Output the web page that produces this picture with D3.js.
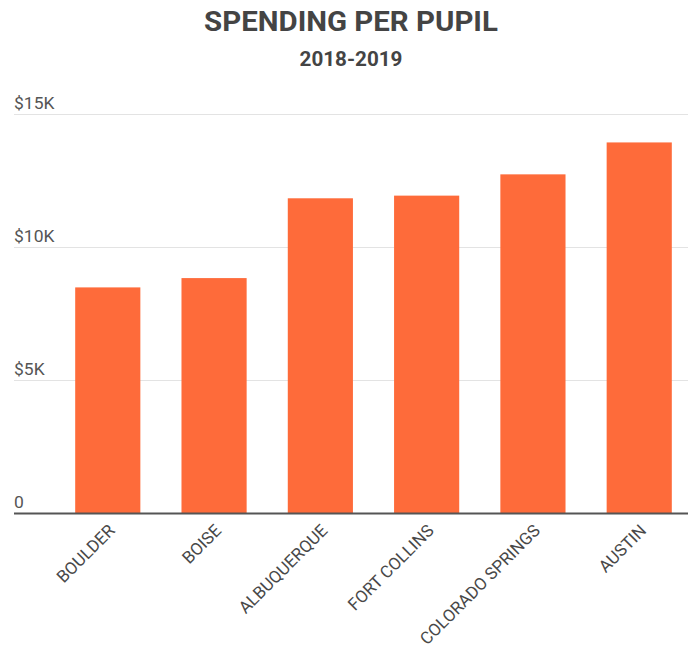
<!DOCTYPE html>
<html><head><meta charset="utf-8">
<script src="https://cdn.jsdelivr.net/npm/d3@7"></script>
<style>body{margin:0;background:#fff;font-family:Roboto,"Open Sans",sans-serif;}</style>
</head><body>
<svg id="c" width="688" height="649"></svg>
<script>
const categories = ["BOULDER","BOISE","ALBUQUERQUE","FORT COLLINS","COLORADO SPRINGS","AUSTIN"];
const values = [8500, 8850, 11850, 11950, 12750, 13950];
const yTicks = [0, 5000, 10000, 15000];
const yTickLabels = ["0", "$5K", "$10K", "$15K"];
const title = "SPENDING PER PUPIL";
const subtitle = "2018-2019";

const svg = d3.select("#c");
const x = d3.scaleBand().domain(categories).range([55, 692]).paddingInner(0.387).paddingOuter(0.19);
const y = d3.scaleLinear().domain([0, 15000]).range([513.5, 114.5]);

svg.append("g").attr("transform", "translate(351,31) scale(1.09,1)")
  .append("text").attr("text-anchor", "middle")
  .attr("font-size", 27).attr("font-weight", 700).attr("fill", "#444").text(title);
svg.append("g").attr("transform", "translate(351,66) scale(1.06,1)")
  .append("text").attr("text-anchor", "middle")
  .attr("font-size", 19.5).attr("font-weight", 700).attr("fill", "#444").text(subtitle);

// gridlines
const g = svg.append("g");
g.selectAll("line.grid").data(yTicks.filter(d => d > 0)).join("line")
  .attr("x1", 14).attr("x2", 688).attr("y1", d => y(d)).attr("y2", d => y(d))
  .attr("stroke", "#e3e3e3").attr("stroke-width", 1);
g.selectAll("g.yl").data(yTicks).join("g")
  .attr("transform", d => `translate(14,${y(d) - 5.5}) scale(1.06,1)`)
  .append("text").attr("font-size", 16.5).attr("fill", "#555")
  .text((d, i) => yTickLabels[yTicks.indexOf(d)]);

// bars
svg.selectAll("rect.bar").data(values).join("rect")
  .attr("x", (d, i) => x(categories[i])).attr("width", x.bandwidth())
  .attr("y", d => y(d)).attr("height", d => y(0) - y(d))
  .attr("fill", "#fe6b3a");

// baseline
svg.append("line").attr("x1", 14).attr("x2", 688).attr("y1", y(0)).attr("y2", y(0))
  .attr("stroke", "#555").attr("stroke-width", 2);

// x labels
const xa = svg.append("g").attr("transform", `translate(0,${y(0)})`)
  .call(d3.axisBottom(x).tickSize(0).tickPadding(0));
xa.select(".domain").remove();
xa.selectAll("text")
  .attr("font-family", "Roboto, sans-serif").attr("font-size", 17).attr("fill", "#484848")
  .attr("text-anchor", "end").attr("dy", "0.35em")
  .attr("transform", "translate(4,14) rotate(-45)");
</script>
</body></html>
